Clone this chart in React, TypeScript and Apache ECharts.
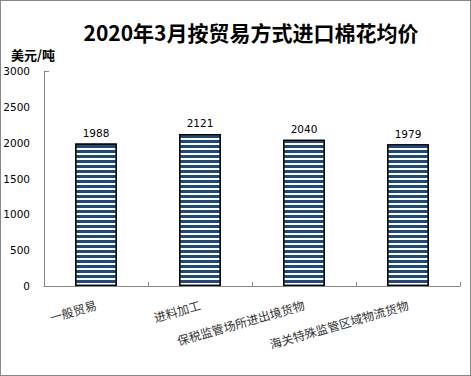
import React, { useEffect, useRef } from "react";
import * as echarts from "echarts";

const titleText = "2020年3月按贸易方式进口棉花均价";
const unitText = "美元/吨";
const categories = ["一般贸易", "进料加工", "保税监管场所进出境货物", "海关特殊监管区域物流货物"];
const values = [1988, 2121, 2040, 1979];
const yMin = 0;
const yMax = 3000;
const yInterval = 500;
const yTopTick = [3000];

export default function App() {
  const ref = useRef<HTMLDivElement>(null);
  useEffect(() => {
    document.body.style.margin = "0";
    const chart = echarts.init(ref.current!, null, { renderer: "svg" });
    const numFont = "DejaVu Sans";
    const cjkFont = "Noto Sans CJK SC";
    chart.setOption({
      animation: false,
      backgroundColor: "transparent",
      title: [
        {
          text: titleText,
          left: 246,
          top: 16,
          textAlign: "center",
          textStyle: { fontFamily: cjkFont, fontSize: 21, fontWeight: "bold", color: "#000" },
        },
        {
          text: unitText,
          left: 6,
          top: 43,
          textStyle: { fontFamily: cjkFont, fontSize: 13, fontWeight: "bold", color: "#000" },
        },
      ],
      grid: { left: 44, right: 11, top: 71, bottom: 90, containLabel: false },
      xAxis: {
        type: "category",
        data: categories,
        axisLine: { show: true, lineStyle: { color: "#868686", width: 1 } },
        axisTick: { show: true, inside: true, length: 4, lineStyle: { color: "#868686" } },
        axisLabel: {
          rotate: 16,
          interval: 0,
          margin: 18,
          fontFamily: cjkFont,
          fontSize: 12,
          color: "#333",
        },
      },
      yAxis: {
        type: "value",
        min: yMin,
        max: yMax,
        interval: yInterval,
        axisLine: { show: true, lineStyle: { color: "#868686", width: 1 } },
        axisTick: {
          show: true,
          inside: true,
          length: 5,
          customValues: yTopTick,
          lineStyle: { color: "#868686" },
        },
        splitLine: { show: false },
        axisLabel: {
          margin: 14,
          fontFamily: numFont,
          fontSize: 10.5,
          color: "#000",
          formatter: (v: number) => String(v),
        },
      },
      series: [
        {
          type: "bar",
          data: values,
          barWidth: "40%",
          itemStyle: {
            color: "#ffffff",
            borderColor: "#000",
            borderWidth: 1.2,
            decal: {
              symbol: "rect",
              symbolSize: 1,
              color: "#1F497D",
              dashArrayX: [1, 0],
              dashArrayY: [2.5, 1.7],
              rotation: 0,
            },
          },
          label: {
            show: true,
            position: "top",
            distance: 5,
            fontFamily: numFont,
            fontSize: 10.5,
            color: "#000",
          },
        },
      ],
    });
    return () => chart.dispose();
  }, []);
  return (
    <div
      style={{
        width: 471,
        height: 376,
        boxSizing: "border-box",
        border: "1px solid #888",
        position: "relative",
        background: "#fff",
      }}
    >
      <div ref={ref} style={{ position: "absolute", left: -1, top: -1, width: 471, height: 376 }} />
    </div>
  );
}
